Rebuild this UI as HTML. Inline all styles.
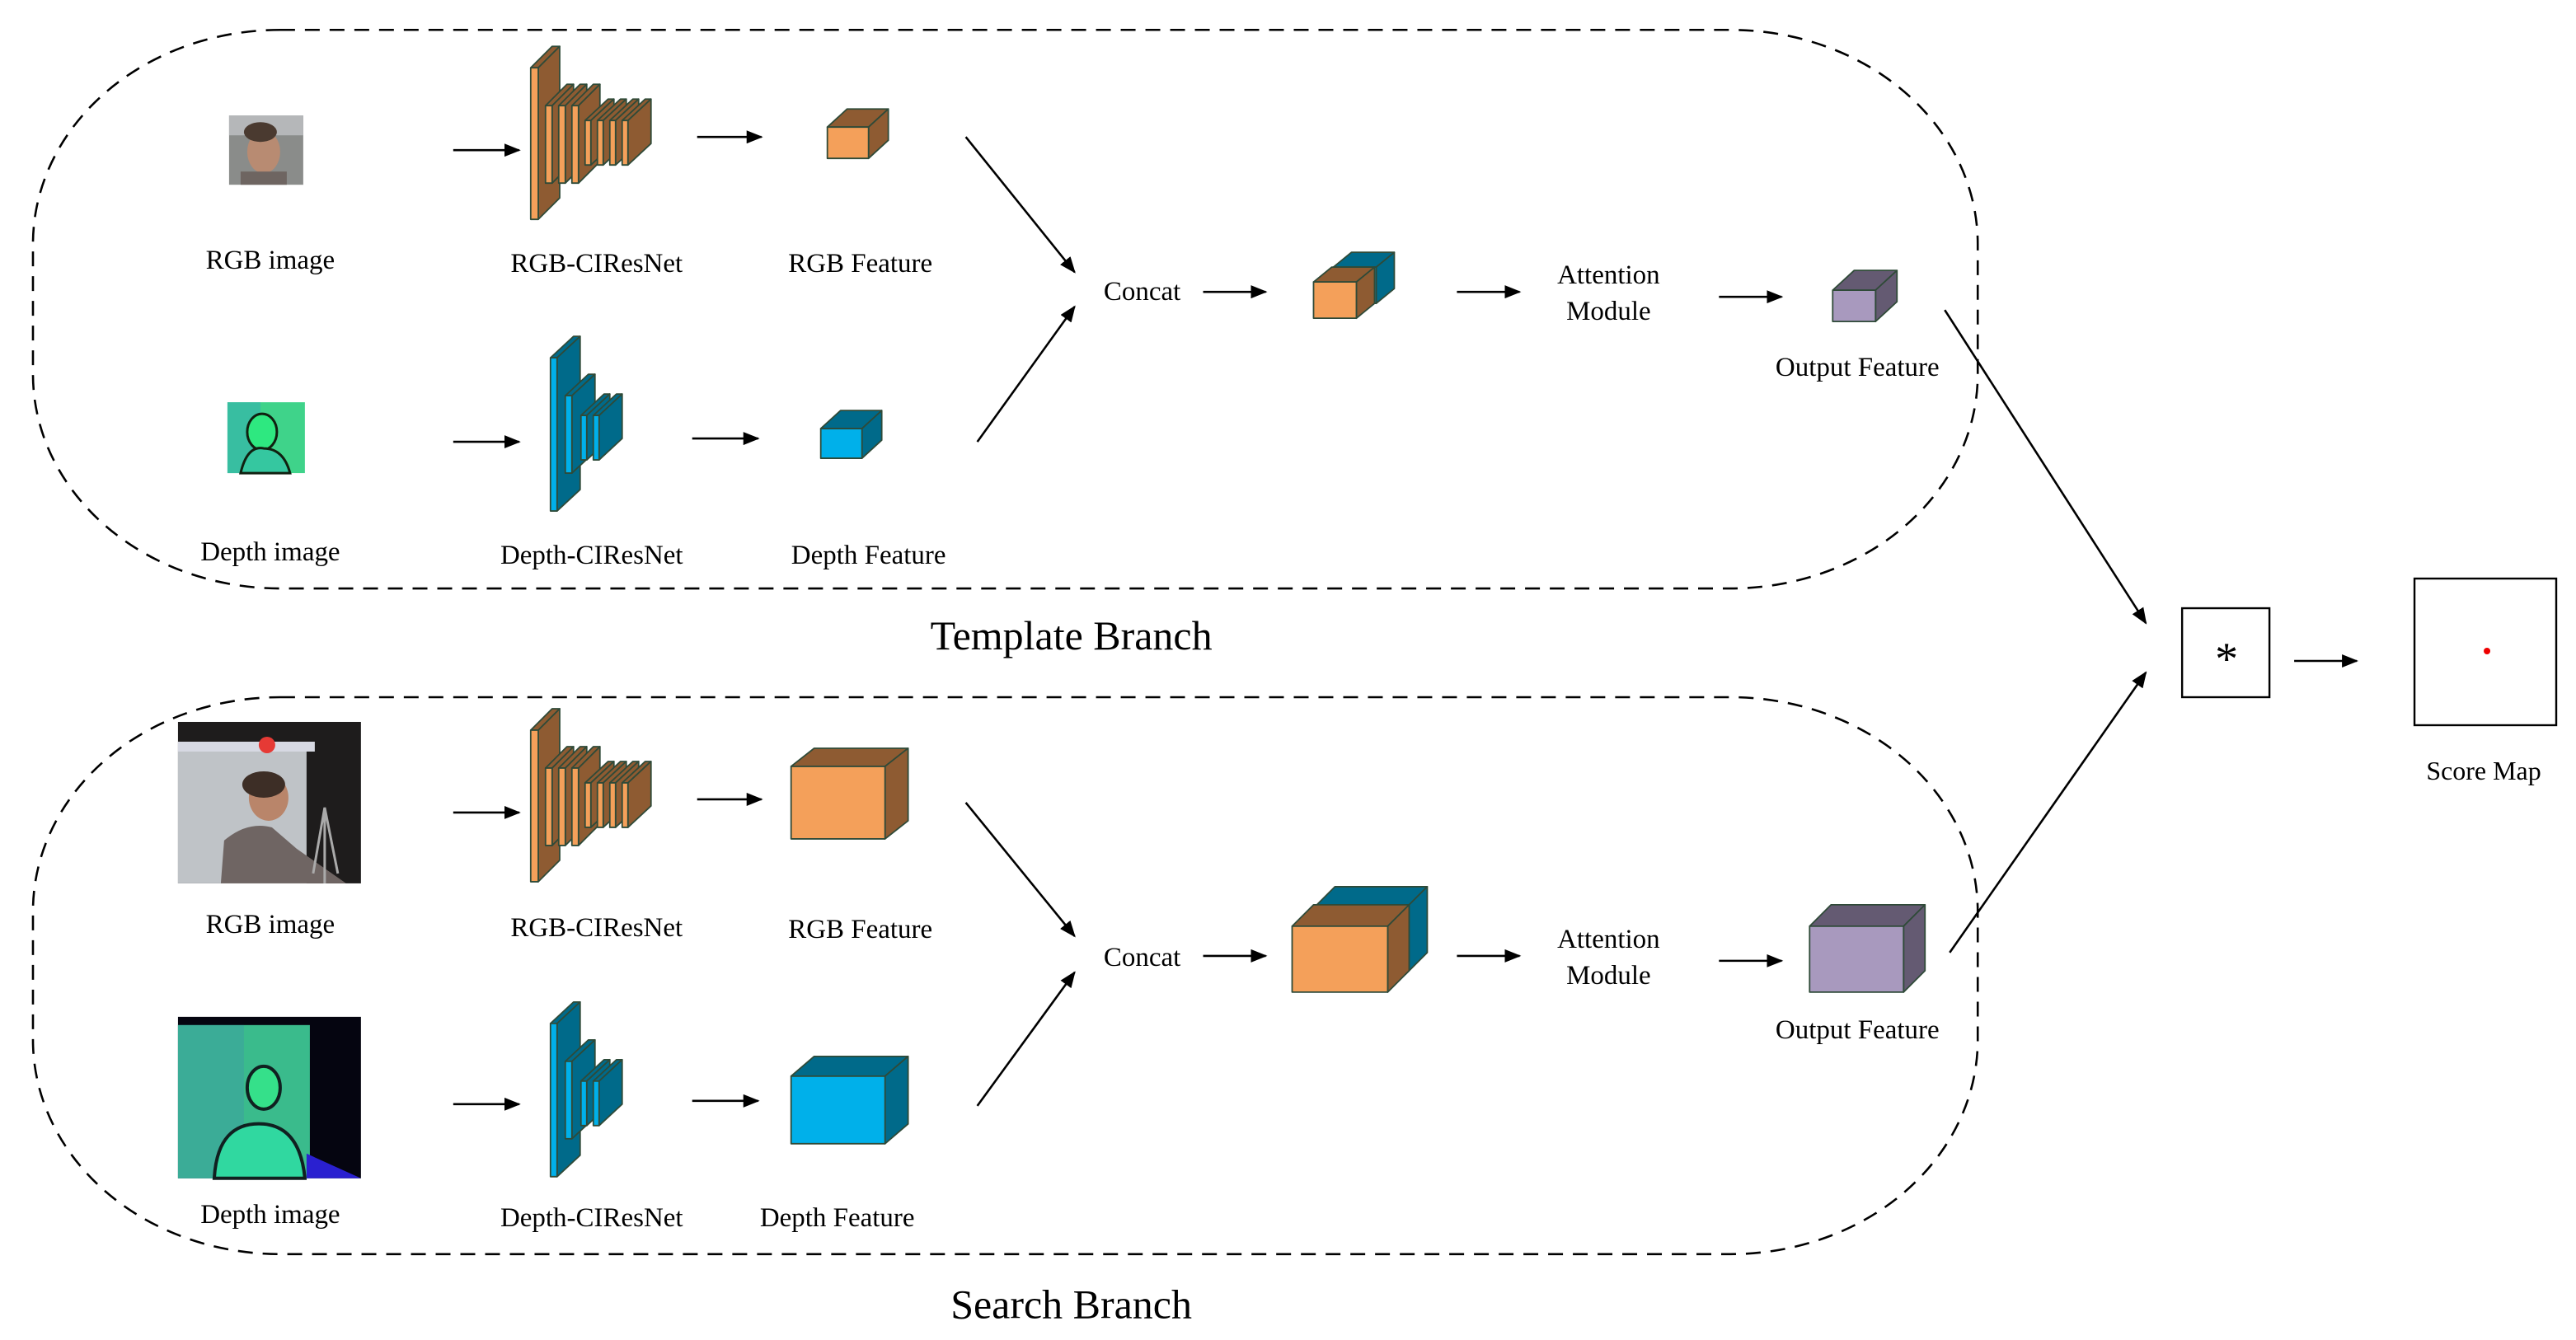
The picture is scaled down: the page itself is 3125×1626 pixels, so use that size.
<!DOCTYPE html>
<html><head><meta charset="utf-8"><style>
html,body{margin:0;padding:0;background:#fff;}
svg{display:block;}
text{font-family:"Liberation Serif",serif;fill:#000;}
</style></head><body>
<svg id="s" width="3125" height="1626" viewBox="0 0 1563 813" xmlns="http://www.w3.org/2000/svg">
<defs>
<marker id="ah" markerWidth="10" markerHeight="8" refX="9" refY="4" orient="auto" markerUnits="userSpaceOnUse">
<path d="M0,0 L10,4 L0,8 Z" fill="#000"/></marker>
</defs>
<rect width="1563" height="813" fill="#fff"/>
<!-- dashed containers -->
<rect x="20" y="18" width="1180" height="339" rx="150" ry="130" fill="none" stroke="#000" stroke-width="1.3" stroke-dasharray="9,6"/>
<rect x="20" y="423" width="1180" height="338" rx="150" ry="130" fill="none" stroke="#000" stroke-width="1.3" stroke-dasharray="9,6"/>
<text x="650" y="394" font-size="25" text-anchor="middle">Template Branch</text>
<text x="650" y="800" font-size="25" text-anchor="middle">Search Branch</text>

<!-- photos top -->
<g>
<rect x="139" y="70" width="45" height="42" fill="#8a8c8a"/>
<rect x="139" y="70" width="45" height="12" fill="#b5b7b9"/>
<ellipse cx="160" cy="92" rx="10" ry="13" fill="#b88b72"/>
<ellipse cx="158" cy="80" rx="10" ry="6" fill="#4a3a30"/>
<rect x="146" y="104" width="28" height="8" fill="#6e6561"/>
</g>
<g>
<rect x="138" y="244" width="47" height="43" fill="#3fd38a"/>
<rect x="138" y="244" width="20" height="43" fill="#33b0b0" opacity="0.6"/>
<ellipse cx="159" cy="262" rx="9" ry="11" fill="#2ee880" stroke="#102010" stroke-width="1.5"/>
<path d="M146 287 Q150 270 160 272 Q172 272 176 287 Z" fill="#35c7a0" stroke="#102010" stroke-width="1.5"/>
</g>
<!-- photos bottom -->
<g>
<rect x="108" y="438" width="111" height="98" fill="#1e1c1c"/>
<rect x="108" y="452" width="78" height="84" fill="#bfc3c7"/>
<rect x="108" y="450" width="83" height="6" fill="#d7d9e3"/>
<circle cx="162" cy="452" r="5" fill="#e63a35"/>
<ellipse cx="163" cy="484" rx="12" ry="14" fill="#b9856a"/>
<ellipse cx="160" cy="476" rx="13" ry="8" fill="#3d2e26"/>
<path d="M134 536 L136 510 Q150 498 165 502 L180 515 L210 536 Z" fill="#6f6563"/>
<path d="M190 530 L197 490 L205 530 M197 490 L197 536" stroke="#aaa" stroke-width="1.5" fill="none"/>
</g>
<g>
<rect x="108" y="617" width="111" height="98" fill="#050510"/>
<rect x="108" y="622" width="80" height="93" fill="#38a8a8"/>
<rect x="108" y="622" width="40" height="93" fill="#3c7ac8" opacity="0.5"/>
<rect x="108" y="622" width="80" height="93" fill="#3ee05a" opacity="0.35"/>
<ellipse cx="160" cy="660" rx="10" ry="13" fill="#35e08a" stroke="#102020" stroke-width="2"/>
<path d="M130 715 Q132 680 160 682 Q182 684 185 715 Z" fill="#30d8a0" stroke="#102020" stroke-width="2"/>
<path d="M186 700 L219 715 L186 715 Z" fill="#2a20d0"/>
</g>

<g id="shapes"></g>

<!-- arrows -->
<g stroke="#000" stroke-width="1.3" fill="none" marker-end="url(#ah)">
<line x1="275" y1="91" x2="315" y2="91"/>
<line x1="423" y1="83" x2="462" y2="83"/>
<line x1="275" y1="268" x2="315" y2="268"/>
<line x1="420" y1="266" x2="460" y2="266"/>
<line x1="586" y1="83" x2="652" y2="165"/>
<line x1="593" y1="268" x2="652" y2="186"/>
<line x1="730" y1="177" x2="768" y2="177"/>
<line x1="884" y1="177" x2="922" y2="177"/>
<line x1="1043" y1="180" x2="1081" y2="180"/>
<line x1="1180" y1="188" x2="1302" y2="378"/>
<line x1="275" y1="493" x2="315" y2="493"/>
<line x1="423" y1="485" x2="462" y2="485"/>
<line x1="275" y1="670" x2="315" y2="670"/>
<line x1="420" y1="668" x2="460" y2="668"/>
<line x1="586" y1="487" x2="652" y2="568"/>
<line x1="593" y1="671" x2="652" y2="590"/>
<line x1="730" y1="580" x2="768" y2="580"/>
<line x1="884" y1="580" x2="922" y2="580"/>
<line x1="1043" y1="583" x2="1081" y2="583"/>
<line x1="1183" y1="578" x2="1302" y2="408"/>
<line x1="1392" y1="401" x2="1430" y2="401"/>
</g>

<rect x="1324" y="369" width="53" height="54" fill="#fff" stroke="#000" stroke-width="1.2"/>
<text x="1351" y="409" font-size="28" text-anchor="middle">*</text>
<rect x="1465" y="351" width="86" height="89" fill="#fff" stroke="#000" stroke-width="1.2"/>
<circle cx="1509" cy="395" r="2" fill="#e00"/>
<text x="1507" y="473" font-size="16" text-anchor="middle">Score Map</text>

<g font-size="16.5" text-anchor="middle">
<text x="164" y="163">RGB image</text>
<text x="362" y="165">RGB-CIResNet</text>
<text x="522" y="165">RGB Feature</text>
<text x="164" y="340">Depth image</text>
<text x="359" y="342">Depth-CIResNet</text>
<text x="527" y="342">Depth Feature</text>
<text x="693" y="182">Concat</text>
<text x="976" y="172">Attention</text>
<text x="976" y="194">Module</text>
<text x="1127" y="228">Output Feature</text>
<text x="164" y="566">RGB image</text>
<text x="362" y="568">RGB-CIResNet</text>
<text x="522" y="569">RGB Feature</text>
<text x="164" y="742">Depth image</text>
<text x="359" y="744">Depth-CIResNet</text>
<text x="508" y="744">Depth Feature</text>
<text x="693" y="586">Concat</text>
<text x="976" y="575">Attention</text>
<text x="976" y="597">Module</text>
<text x="1127" y="630">Output Feature</text>
</g>
</svg>
<script>
(function(){
var g=document.getElementById('shapes'),NS='http://www.w3.org/2000/svg';
function P(pts,f){var p=document.createElementNS(NS,'polygon');p.setAttribute('points',pts.map(function(a){return a.join(',')}).join(' '));p.setAttribute('fill',f);p.setAttribute('stroke','#2f4a38');p.setAttribute('stroke-width','0.9');p.setAttribute('stroke-linejoin','round');g.appendChild(p);}
function box(x,y,w,h,d,dy,fr,sd){
P([[x,y],[x+d,y-dy],[x+w+d,y-dy],[x+w,y]],sd);
P([[x+w,y],[x+w+d,y-dy],[x+w+d,y+h-dy],[x+w,y+h]],sd);
P([[x,y],[x+w,y],[x+w,y+h],[x,y+h]],fr);}
var OF='#F4A05A',OS='#8E5B32',BF='#00B0EA',BS='#006A8A',PF='#A899BE',PS='#645A72';
[0,402].forEach(function(o){
box(322,41+o,4.6,92,13,13,OF,OS);
[331,339,347].forEach(function(x){box(x,64+o,4,47,13,13,OF,OS);});
[355,362.5,370,377.5].forEach(function(x){box(x,73+o,3.5,27,14,13,OF,OS);});
});
[0,404].forEach(function(o){
box(334,217+o,4,93,14,13,BF,BS);
box(343,240+o,4,47,14,13,BF,BS);
box(352.5,252+o,3.5,27,14,13,BF,BS);
box(360,252+o,3.5,27,14,13,BF,BS);
});
box(502,77,25,19,12,11,OF,OS);
box(498,260,25,18,12,11,BF,BS);
box(480,465,57,44,14,11,OF,OS);
box(480,653,57,41,14,12,BF,BS);
box(809,162,26,22,11,9,BF,BS);
box(797,171,26,22,11,9,OF,OS);
box(797,551,56,40,13,13,BF,BS);
box(784,562,58,40,13,13,OF,OS);
box(1112,176,26,19,13,12,PF,PS);
box(1098,562,57,40,13,13,PF,PS);
})();
</script>
</body></html>
